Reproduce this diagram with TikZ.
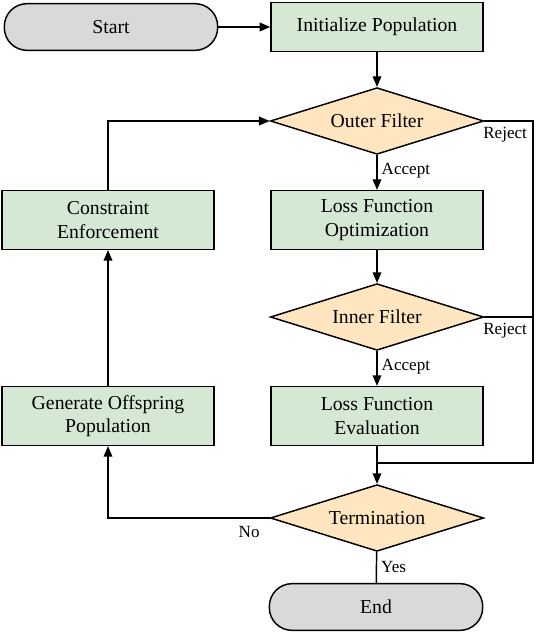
\documentclass[tikz,border=0pt]{standalone}
\usepackage{fontspec}
\setmainfont{Liberation Serif}
\usetikzlibrary{shapes.geometric,arrows.meta}

\definecolor{boxgreen}{HTML}{D5E8D4}
\definecolor{decisionorange}{HTML}{FFE6C0}
\definecolor{termgray}{HTML}{D9D9D9}

\begin{document}
\begin{tikzpicture}[x=0.75pt, y=-0.75pt, font=\fontsize{14.8}{17.5}\selectfont,
    every path/.style={line width=1.1pt},
    arrow/.style={-{Triangle[length=8pt,width=6.5pt]}},
    process/.style={draw, fill=boxgreen, rectangle, minimum width=159pt, minimum height=44pt, align=center, inner sep=2pt},
    decision/.style={draw, fill=decisionorange, diamond, aspect=3, minimum width=160pt, minimum height=50pt, inner sep=1pt},
    terminal/.style={draw, fill=termgray, rectangle, rounded corners=17pt, minimum width=160pt, minimum height=35pt},
    lbl/.style={font=\fontsize{12.8}{14}\selectfont, inner sep=3pt}]

      \useasboundingbox (0,0) rectangle (536,634);

      \node[terminal] (start) at (111,27) {Start};
      \node[process, minimum height=37pt] (init) at (377,27) {Initialize Population};
      \node[decision] (outer) at (377,121) {Outer Filter};
      \node[process] (lfo) at (377,220) {Loss Function\\Optimization};
      \node[decision] (inner) at (377,317) {Inner Filter};
      \node[process] (lfe) at (377,416) {Loss Function\\Evaluation};
      \node[decision] (term) at (377,518) {Termination};
      \node[terminal] (end) at (376,607) {End};

      \node[process] (ce) at (108,220) {Constraint\\Enforcement};
      \node[process] (gop) at (108,416) {Generate Offspring\\Population};

      \coordinate (rtop) at (533,121);
      \coordinate (join) at (377,463);

      \draw[arrow] (start) -- (init);
      \draw[arrow] (init) -- (outer);
      \draw[arrow] (outer) -- node[lbl, right, pos=0.45] {Accept} (lfo);
      \draw[arrow] (lfo) -- (inner);
      \draw[arrow] (inner) -- node[lbl, right, pos=0.45] {Accept} (lfe);
      \draw[arrow] (lfe) -- (term);
      \draw (term) -- node[lbl, right] {Yes} (end);

      % reject branches back to the main line
      \draw (outer.east) -- (rtop) node[lbl, below left, inner sep=4pt] {Reject} |- (join);
      \draw (inner.east) -- (inner.east -| rtop) node[lbl, below left, inner sep=4pt] {Reject};

      % loop on the left
      \draw[arrow] (term.west) node[lbl, below left, xshift=-4pt, yshift=-3pt] {No} -| (gop);
      \draw[arrow] (gop) -- (ce);
      \draw[arrow] (ce) |- (outer.west);
\end{tikzpicture}
\end{document}
